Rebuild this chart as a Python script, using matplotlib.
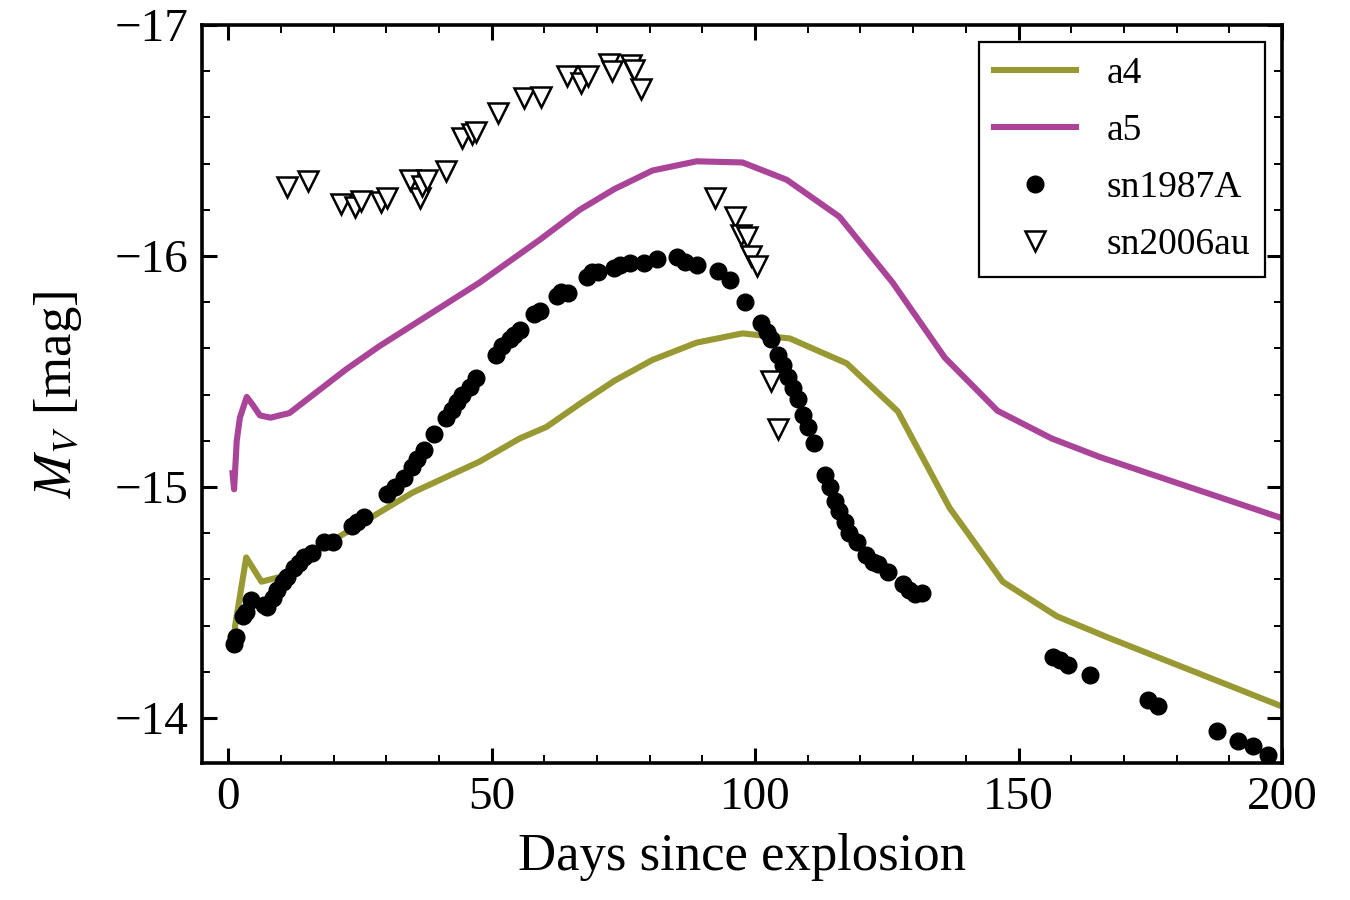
import numpy as np
import matplotlib
matplotlib.use('Agg')
from matplotlib import pyplot as plt
from matplotlib.ticker import MultipleLocator

plt.rcParams['font.family'] = ['Liberation Serif', 'DejaVu Serif']
plt.rcParams['mathtext.fontset'] = 'stix'

# ── Model light curves (days, M_V) ─────────────────────────────────────────
a4_days = [1.0, 1.3, 3.4, 6.3, 9.7, 19.2, 35.0, 47.7, 55.3, 60.4, 66.7, 73.3,
           80.5, 88.9, 97.6, 106.6, 117.4, 127.1, 136.9, 147.0, 157.3, 166.8,
           200.0]
a4_mag = [-14.33, -14.40, -14.695, -14.59, -14.61, -14.76, -14.976, -15.11,
          -15.21, -15.26, -15.36, -15.46, -15.55, -15.625, -15.665, -15.643,
          -15.535, -15.327, -14.91, -14.59, -14.44, -14.35, -14.05]

a5_days = [0.8, 1.1, 1.6, 2.2, 3.5, 4.5, 6.0, 8.0, 11.6, 22.4, 28.7, 47.7,
           59.1, 66.7, 73.3, 80.5, 88.9, 97.6, 106.0, 116.0, 126.1, 136.0,
           146.0, 156.3, 165.4, 200.0]
a5_mag = [-15.06, -14.99, -15.20, -15.30, -15.39, -15.36, -15.31, -15.30,
          -15.32, -15.51, -15.61, -15.885, -16.07, -16.20, -16.29, -16.37,
          -16.41, -16.405, -16.33, -16.17, -15.885, -15.56, -15.33, -15.21,
          -15.13, -14.865]

# ── SN 1987A ───────────────────────────────────────────────────────────────
sn87_days = [1.1, 1.5, 2.7, 3.4, 4.4, 6.8, 7.4, 8.4, 9.3, 10.3, 11.2, 12.5,
             13.5, 14.4, 15.8, 18.2, 19.8, 23.4, 24.5, 25.8, 30.2, 31.7, 33.4,
             34.8, 35.9, 37.2, 39.1, 41.4, 42.4, 43.5, 44.4, 45.8, 47.1, 50.9,
             52.0, 53.4, 54.3, 55.3, 58.1, 59.1, 62.3, 63.2, 64.4, 68.0, 69.1,
             70.1, 73.3, 74.3, 76.2, 79.0, 81.3, 85.1, 86.6, 88.9, 92.9, 95.2,
             98.0, 101.2, 102.2, 103.1, 104.3, 105.2, 106.2, 107.1, 108.1,
             109.0, 110.0, 111.1, 113.2, 114.2, 115.1, 116.0, 117.0, 117.9,
             119.3, 121.1, 122.3, 123.3, 125.2, 128.0, 129.3, 130.3, 131.6,
             156.5, 157.8, 159.4, 163.5, 174.5, 176.4, 187.7, 191.6, 194.5,
             197.3]
sn87_mag = [-14.32, -14.35, -14.44, -14.46, -14.51, -14.49, -14.48, -14.52,
            -14.556, -14.587, -14.61, -14.65, -14.673, -14.695, -14.716,
            -14.764, -14.76, -14.83, -14.85, -14.87, -14.97, -15.0, -15.04,
            -15.085, -15.12, -15.16, -15.23, -15.30, -15.335, -15.37, -15.40,
            -15.435, -15.47, -15.57, -15.61, -15.64, -15.66, -15.68, -15.747,
            -15.76, -15.825, -15.846, -15.84, -15.91, -15.93, -15.93, -15.95,
            -15.963, -15.97, -15.97, -15.985, -15.994, -15.976, -15.963,
            -15.933, -15.898, -15.80, -15.71, -15.67, -15.64, -15.57, -15.526,
            -15.478, -15.43, -15.38, -15.31, -15.258, -15.19, -15.054, -14.998,
            -14.94, -14.894, -14.85, -14.80, -14.76, -14.707, -14.677, -14.665,
            -14.63, -14.578, -14.556, -14.535, -14.54, -14.262, -14.25, -14.23,
            -14.184, -14.076, -14.054, -13.945, -13.90, -13.88, -13.84]

# ── SN 2006au ──────────────────────────────────────────────────────────────
sn06_days = [11.2, 15.2, 21.3, 24.1, 25.1, 28.9, 30.2, 34.4, 36.3, 36.7, 37.8,
             41.4, 44.4, 46.3, 47.1, 51.1, 56.2, 59.3, 64.2, 67.0, 68.2, 72.3,
             72.9, 76.4, 77.1, 78.4, 92.3, 96.1, 97.4, 98.4, 99.3, 100.3,
             103.1, 104.3]
sn06_mag = [-16.297, -16.323, -16.227, -16.214, -16.24, -16.232, -16.253,
            -16.331, -16.249, -16.305, -16.327, -16.37, -16.513, -16.53,
            -16.539, -16.62, -16.686, -16.69, -16.78, -16.75, -16.78, -16.83,
            -16.80, -16.825, -16.807, -16.725, -16.249, -16.167, -16.09,
            -16.084, -16.002, -15.955, -15.46, -15.25]

olive = '#999933'
purple = '#AA4499'

fig = plt.figure(figsize=(13.5, 9), dpi=100)
ax = fig.add_axes([0.1496, 0.1522, 0.80, 0.82])

ax.plot(a4_days, a4_mag, color=olive, lw=4.4, label='a4', zorder=2)
ax.plot(a5_days, a5_mag, color=purple, lw=4.4, label='a5', zorder=2)
ax.plot(sn87_days, sn87_mag, 'o', color='black', ms=12, mec='black',
        label='sn1987A', zorder=3)
ax.plot(sn06_days, sn06_mag, 'v', mfc='white', mec='black', ms=14, mew=1.8,
        label='sn2006au', zorder=4)

ax.set_xlim(-5, 200)
ax.set_ylim(-13.805, -17.0)

ax.xaxis.set_major_locator(MultipleLocator(50))
ax.xaxis.set_minor_locator(MultipleLocator(10))
ax.yaxis.set_major_locator(MultipleLocator(1))
ax.yaxis.set_minor_locator(MultipleLocator(0.2))

ax.tick_params(which='both', direction='in', top=True, right=True,
               labelsize=34)
ax.tick_params(which='major', length=11, width=2.2, pad=10)
ax.tick_params(which='minor', length=6, width=1.4)
for sp in ax.spines.values():
    sp.set_linewidth(2.6)

ax.set_xlabel('Days since explosion', fontsize=38, labelpad=10)
ax.set_ylabel('$M_V$ [mag]', fontsize=38, labelpad=22)

leg = ax.legend(loc='upper right', fontsize=27, numpoints=1, fancybox=False,
                edgecolor='black', framealpha=1, handlelength=2.2,
                handletextpad=0.8, labelspacing=0.6, borderpad=0.4,
                borderaxespad=0.45)
leg.get_frame().set_linewidth(1.6)

fig.savefig('out.png', dpi=100)
